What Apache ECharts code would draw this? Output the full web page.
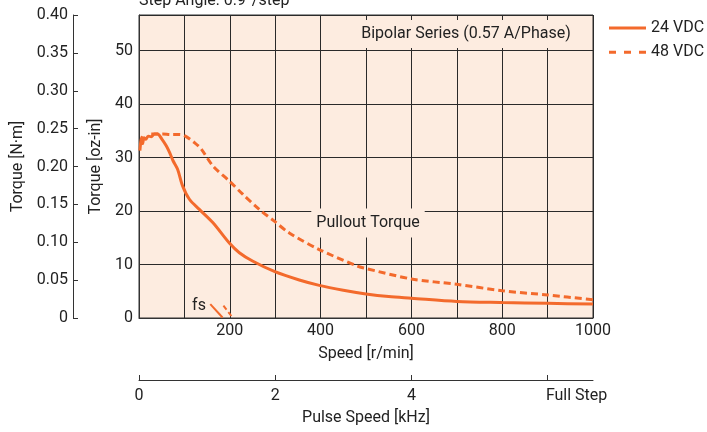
<!DOCTYPE html>
<html>
<head>
<meta charset="utf-8">
<script src="https://cdn.jsdelivr.net/npm/echarts@6/dist/echarts.min.js"></script>
<style>html,body{margin:0;padding:0;background:#fff}#c{width:707px;height:432px}</style>
</head>
<body>
<div id="c"></div>
<script>
// ---- data ----
var speed24  = [2, 4, 6, 8, 11, 15, 20, 27, 34, 41, 50, 60, 67, 75, 85, 96, 111, 133, 163, 199, 221, 251, 298, 353, 397, 450, 500, 550, 600, 700, 800, 900, 1000];
var torque24 = [31.3, 33.0, 33.8, 32.6, 33.7, 33.4, 34.0, 33.9, 34.4, 34.4, 33.5, 32.2, 31.0, 29.4, 27.8, 24.7, 22.2, 20.3, 17.8, 14.0, 12.2, 10.6, 8.7, 7.1, 6.1, 5.2, 4.5, 4.0, 3.7, 3.1, 2.9, 2.75, 2.6];
var speed48  = [27, 40, 52, 70, 89, 100, 122, 137, 163, 199, 229, 265, 298, 331, 397, 478, 493, 600, 700, 800, 900, 1000];
var torque48 = [34.4, 34.4, 34.4, 34.3, 34.3, 34.1, 32.8, 31.6, 28.4, 25.6, 23.1, 20.3, 18.1, 15.9, 12.8, 9.8, 9.4, 7.3, 6.3, 5.1, 4.3, 3.4];
var fsSpeed24 = [157, 184];
var fsTorque24 = [2.6, 0.1];
var fsSpeed48 = [186, 206];
var fsTorque48 = [2.3, 0.1];
var seriesNames = ['24 VDC', '48 VDC'];
var pulseTicks = [0, 2, 4, 6];
var pulseLabels = ['0', '2', '4', 'Full Step'];
var nmMax = 0.40;
var ozPerNm = 141.6119;
var speedMax = 1000;
var pulseMax = speedMax * 400 / 60 / 1000; // 0.9 deg/step -> 400 steps/rev

function zip(a, b) { return a.map(function (v, i) { return [v, b[i]]; }); }

var orange = '#f36a2c';
var ink = '#222';
var fnt = 'Roboto';
var chart = echarts.init(document.getElementById('c'), null, {renderer: 'canvas'});
chart.setOption({
  animation: false,
  textStyle: {fontFamily: fnt},
  grid: {left: 139, right: 114, top: 15, bottom: 114, show: true, backgroundColor: '#fdece0', borderColor: '#333', borderWidth: 1},
  legend: {
    orient: 'vertical', left: 609, top: 20, padding: 0, itemWidth: 37, itemHeight: 3, itemGap: 8.3,
    textStyle: {fontFamily: fnt, fontSize: 16, color: ink},
    data: [
      {name: seriesNames[0], icon: 'path://M0,0 H37 V3 H0 Z', itemStyle: {color: orange}},
      {name: seriesNames[1], icon: 'path://M0,0 H7 V3 H0 Z M15,0 H22 V3 H15 Z M30,0 H37 V3 H30 Z', itemStyle: {color: orange}}
    ]
  },
  xAxis: [{
    type: 'value', min: 0, max: speedMax, interval: 100, position: 'bottom',
    name: 'Speed [r/min]', nameLocation: 'middle', nameGap: 28,
    nameTextStyle: {fontFamily: fnt, fontSize: 16, color: ink},
    axisLine: {show: true, onZero: false, lineStyle: {color: '#333', width: 1}},
    axisTick: {show: false},
    axisLabel: {margin: 5, fontFamily: fnt, fontSize: 16, color: ink,
      formatter: function (v) { return (v > 0 && v % 200 === 0) ? String(v) : ''; }},
    splitLine: {show: true, lineStyle: {color: '#2a2a2a', width: 1}}
  }, {
    type: 'value', min: 0, max: pulseMax, position: 'bottom', offset: 62,
    name: 'Pulse Speed [kHz]', nameLocation: 'middle', nameGap: 30,
    nameTextStyle: {fontFamily: fnt, fontSize: 16, color: ink},
    axisLine: {show: true, onZero: false, lineStyle: {color: '#333', width: 1}},
    axisTick: {show: true, inside: true, length: 5, customValues: pulseTicks, lineStyle: {color: '#333'}},
    axisLabel: {margin: 8, fontFamily: fnt, fontSize: 16, color: ink, customValues: pulseTicks,
      formatter: function (v) {
        var i = pulseTicks.indexOf(v);
        if (i < 0) return '';
        return i === pulseTicks.length - 1 ? '{fs|' + pulseLabels[i] + '}' : pulseLabels[i];
      },
      rich: {fs: {fontFamily: fnt, fontSize: 16, color: ink, padding: [0, 0, 0, 58]}}},
    splitLine: {show: false}
  }],
  yAxis: [{
    type: 'value', min: 0, max: nmMax * ozPerNm, interval: 10, position: 'left',
    name: 'Torque [oz-in]', nameLocation: 'middle', nameGap: 34,
    nameTextStyle: {fontFamily: fnt, fontSize: 16, color: ink},
    axisLine: {show: true, onZero: false, lineStyle: {color: '#333', width: 1}},
    axisTick: {show: false},
    axisLabel: {margin: 6, fontFamily: fnt, fontSize: 16, color: ink,
      formatter: function (v) { return (Math.abs(v % 10) < 1e-9) ? String(v) : ''; }},
    splitLine: {show: true, lineStyle: {color: '#2a2a2a', width: 1}}
  }, {
    type: 'value', min: 0, max: nmMax, interval: 0.05, position: 'left', offset: 66,
    name: 'Torque [N·m]', nameLocation: 'middle', nameGap: 45,
    nameTextStyle: {fontFamily: fnt, fontSize: 16, color: ink},
    axisLine: {show: true, onZero: false, lineStyle: {color: '#333', width: 1}},
    axisTick: {show: true, inside: true, length: 5, lineStyle: {color: '#333'}},
    axisLabel: {margin: 5, fontFamily: fnt, fontSize: 16, color: ink,
      formatter: function (v) { return v === 0 ? '0' : v.toFixed(2); }},
    splitLine: {show: false}
  }],
  series: [{
    name: seriesNames[0], type: 'line', xAxisIndex: 0, yAxisIndex: 0, data: zip(speed24, torque24),
    symbol: 'none', smooth: 0.3, lineStyle: {color: orange, width: 3}, itemStyle: {color: orange}, z: 5
  }, {
    name: seriesNames[1], type: 'line', xAxisIndex: 0, yAxisIndex: 0, data: zip(speed48, torque48),
    symbol: 'none', smooth: 0.3, lineStyle: {color: orange, width: 3, type: [7, 4]}, itemStyle: {color: orange}, z: 5
  }, {
    name: 'fs24', type: 'line', xAxisIndex: 0, yAxisIndex: 0, data: zip(fsSpeed24, fsTorque24),
    symbol: 'none', silent: true, lineStyle: {color: orange, width: 2}, z: 5
  }, {
    name: 'fs48', type: 'line', xAxisIndex: 0, yAxisIndex: 0, data: zip(fsSpeed48, fsTorque48),
    symbol: 'none', silent: true, lineStyle: {color: orange, width: 2, type: [5, 3]}, z: 5
  }],
  graphic: [
    {type: 'text', x: 139, y: -7, z: 100, style: {text: 'Step Angle: 0.9°/step', font: '16px Roboto', fill: ink, align: 'left', verticalAlign: 'top'}},
    {type: 'text', x: 466, y: 34, z: 100, style: {text: 'Bipolar Series (0.57 A/Phase)', font: '16px Roboto', fill: ink, align: 'center', verticalAlign: 'middle', backgroundColor: '#fdece0', padding: [6, 8, 6, 8]}},
    {type: 'text', x: 368, y: 223, z: 100, style: {text: 'Pullout Torque', font: '16px Roboto', fill: ink, align: 'center', verticalAlign: 'middle', backgroundColor: '#fdece0', padding: [7, 5, 6, 5]}},
    {type: 'text', x: 199, y: 306, z: 100, style: {text: 'fs', font: '16px Roboto', fill: ink, align: 'center', verticalAlign: 'middle'}}
  ]
});
</script>
</body>
</html>
